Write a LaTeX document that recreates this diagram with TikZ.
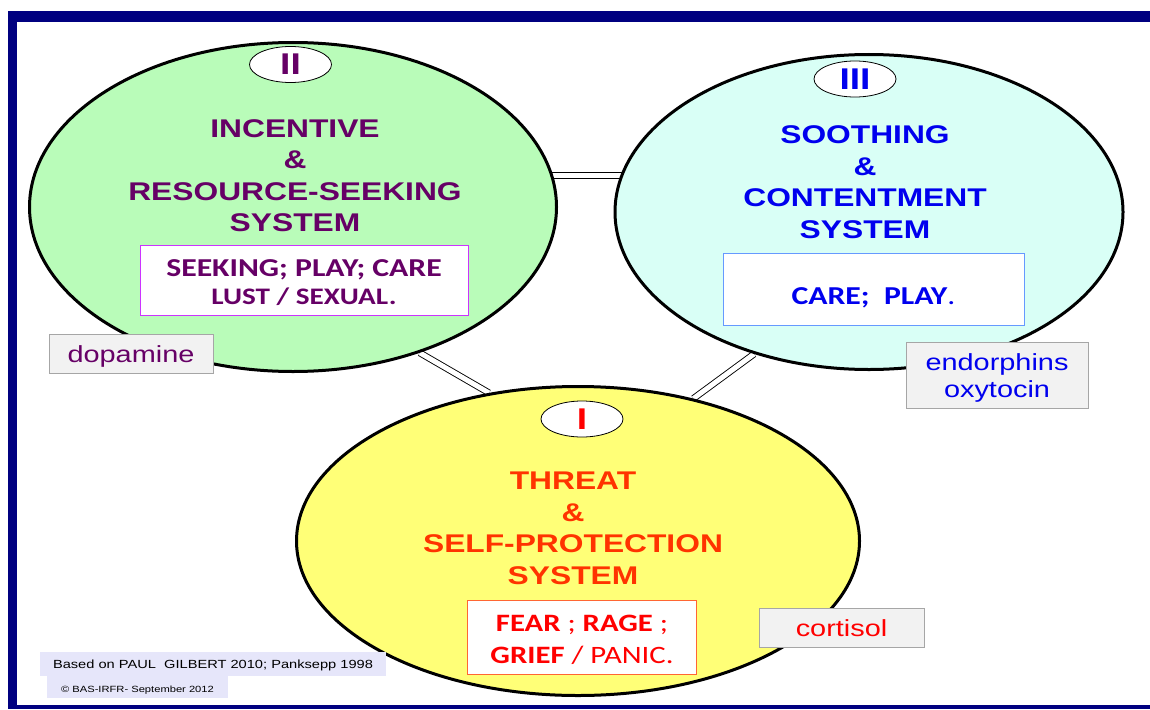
\documentclass[tikz,border=0pt]{standalone}
\usepackage{fontspec}
\setmainfont{Liberation Sans}[FakeStretch=1.24]
\newfontfamily\boxfont{Carlito}[FakeStretch=1.23]
\usetikzlibrary{shapes.geometric,backgrounds}
\definecolor{navyframe}{HTML}{000080}
\definecolor{seekfill}{HTML}{B9FCB9}
\definecolor{soothefill}{HTML}{D9FFF6}
\definecolor{threatfill}{HTML}{FFFF77}
\definecolor{seektext}{HTML}{660066}
\definecolor{soothetext}{HTML}{0000EE}
\definecolor{threattext}{HTML}{FF3300}
\definecolor{seekline}{HTML}{CC33FF}
\definecolor{sootheline}{HTML}{6699FF}
\definecolor{threatline}{HTML}{FF6633}
\definecolor{labelfill}{HTML}{F2F2F2}
\definecolor{labelline}{HTML}{A6A6A6}
\definecolor{footfill}{HTML}{E6E6FA}
\newcommand{\highline}[1]{\rule{0pt}{#1}}
\tikzset{
  system/.style={ellipse, draw, line width=3pt, inner sep=0pt},
  numeral/.style={ellipse, draw, fill=white, line width=0.8pt, minimum width=82pt, minimum height=36pt, inner sep=0pt, font=\fontsize{30}{30}\selectfont\bfseries},
  heading/.style={anchor=north, align=center, inner sep=0pt, font=\fontsize{25.6}{31.5}\selectfont\bfseries},
  actbox/.style={rectangle, draw, fill=white, line width=1pt, inner sep=0pt, align=center},
  hormone/.style={rectangle, draw=labelline, fill=labelfill, line width=1pt, inner sep=0pt, font=\fontsize{23.3}{27}\selectfont},
  link/.style={double, double distance=5pt, line width=0.9pt},
  foot/.style={rectangle, fill=footfill, inner sep=0pt}
}
\begin{document}
\begin{tikzpicture}[x=1pt, y=-1pt]
\useasboundingbox (0,0) rectangle (1150,709);
\fill[navyframe] (7.5,11) rectangle (1150,22);
\fill[navyframe] (7.5,11) rectangle (17,709);
\fill[navyframe] (7.5,705) rectangle (1150,709);

\node[system, fill=seekfill, minimum width=527pt, minimum height=329pt] (sysII) at (293,207) {};
\node[system, fill=soothefill, minimum width=508pt, minimum height=315pt] (sysIII) at (869,212) {};
\node[system, fill=threatfill, minimum width=563pt, minimum height=309pt] (sysI) at (578,541) {};
\coordinate (gapII) at ([yshift=31.5pt]sysII.center);

\begin{scope}[on background layer]
\fill[white] (0,0) rectangle (1150,709);
\draw[link] (gapII) -- (gapII -| sysIII.center);
\draw[link] (sysII.-49) -- (sysI.121.9);
\draw[link] (sysIII.-129.3) -- (sysI.51.4);
\end{scope}

\node[numeral, text=seektext] (numII) at (290.5,64.5) {II};
\node[numeral, text=soothetext] (numIII) at (855,79) {III};
\node[numeral, text=red] (numI) at (582,419) {I};

\node[heading, text=seektext] (headII) at (295,119.4) {INCENTIVE\\\&\\RESOURCE-SEEKING\\SYSTEM};
\node[heading, text=soothetext] (headIII) at (865,125.5) {SOOTHING\\\&\\CONTENTMENT\\SYSTEM};
\node[heading, text=threattext] (headI) at (573,471.7) {THREAT\\\&\\SELF-PROTECTION\\SYSTEM};

\node[actbox, draw=seekline, text=seektext, minimum width=328pt, minimum height=70pt, font=\boxfont\bfseries\fontsize{25.8}{28}\selectfont] (actII) at (304,280) {\highline{22.5pt}SEEKING; PLAY; CARE\\\fontsize{23.7}{28}\selectfont LUST / SEXUAL.};
\node[actbox, draw=sootheline, text=soothetext, minimum width=301pt, text height=51pt, text depth=21pt, font=\boxfont\bfseries\fontsize{25.8}{28}\selectfont] (actIII) at (873.5,289) {CARE;\ \ PLAY{\mdseries .}};
\node[actbox, draw=threatline, text=red, minimum width=228.5pt, minimum height=74pt, font=\boxfont\fontsize{25}{32}\selectfont] (actI) at (582,637) {\highline{22pt}{\bfseries FEAR} ; {\bfseries RAGE} ;\\{\bfseries GRIEF} / PANIC.};

\node[hormone, text=seektext, minimum width=164pt, text height=28pt, text depth=11pt] (hormII) at (131,353.5) {dopamine};
\node[hormone, text=soothetext, minimum width=182pt, minimum height=66pt, align=center] (hormIII) at (997,375) {\highline{23pt}endorphins\\oxytocin};
\node[hormone, text=red, minimum width=165pt, text height=28pt, text depth=11pt] (hormI) at (841.5,627.5) {cortisol};

\node[foot, minimum width=346.5pt, text height=16pt, text depth=8pt, font=\fontsize{11.8}{14}\selectfont] (source) at (213,664) {Based on PAUL\ \ GILBERT 2010; Panksepp 1998};
\node[foot, minimum width=181pt, text height=16pt, text depth=6pt, font=\fontsize{9}{11}\selectfont] (rights) at (137.5,687) {\textcopyright\ BAS-IRFR- September 2012};
\end{tikzpicture}
\end{document}
